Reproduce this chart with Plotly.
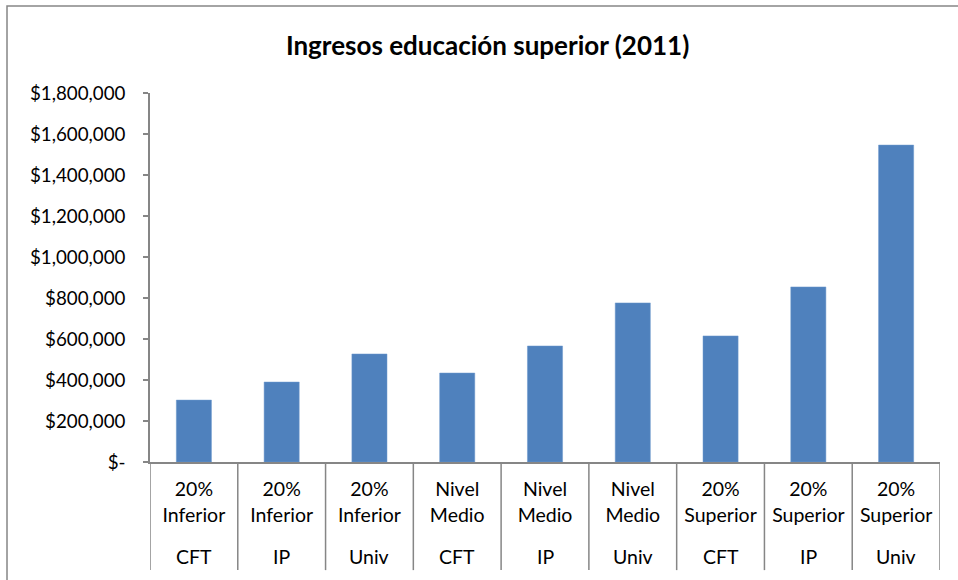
import plotly.graph_objects as go

# ---- data ----
nivel = ["20%<br>Inferior", "20%<br>Inferior", "20%<br>Inferior",
         "Nivel<br>Medio", "Nivel<br>Medio", "Nivel<br>Medio",
         "20%<br>Superior", "20%<br>Superior", "20%<br>Superior"]
institucion = ["CFT", "IP", "Univ", "CFT", "IP", "Univ", "CFT", "IP", "Univ"]
ingresos = [302000, 390000, 527000, 434000, 566000, 776000, 615000, 854000, 1546000]
y_tickvals = [0, 200000, 400000, 600000, 800000, 1000000, 1200000, 1400000, 1600000, 1800000]
y_ticktext = ["$-", "$200,000", "$400,000", "$600,000", "$800,000", "$1,000,000",
              "$1,200,000", "$1,400,000", "$1,600,000", "$1,800,000"]
title_text = "Ingresos educación superior (2011)"

FONT = "Lato"
GRAY = "#868686"

x_idx = list(range(len(ingresos)))

fig = go.Figure()
fig.add_trace(go.Bar(
    x=x_idx, y=ingresos,
    marker=dict(color="#4F81BD", line=dict(color="#6D98CC", width=0.5)),
    width=0.4,
))

shapes = []
# category dividers below the axis
for i in range(len(ingresos) + 1):
    shapes.append(dict(type="line", xref="x", yref="paper",
                       x0=i - 0.5, x1=i - 0.5, y0=0, y1=-0.293,
                       line=dict(color=GRAY, width=1.5)))
# outer chart border
shapes.append(dict(type="rect", xref="paper", yref="paper",
                   x0=-0.181, x1=1.05, y0=1.236, y1=-0.5,
                   line=dict(color=GRAY, width=1.5), fillcolor="rgba(0,0,0,0)"))

annotations = []
for i, inst in enumerate(institucion):
    annotations.append(dict(x=i, xref="x", y=-0.255, yref="paper",
                            text=inst, showarrow=False,
                            font=dict(family=FONT, size=19.5, color="#000000"),
                            xanchor="center", yanchor="middle"))

fig.update_layout(
    width=958, height=580,
    margin=dict(l=150, r=18, t=93, b=118),
    paper_bgcolor="white", plot_bgcolor="white",
    showlegend=False,
    bargap=0.6,
    title=dict(text="<b>" + title_text + "</b>", x=0.509, xanchor="center",
               y=0.921, yanchor="middle", yref="container",
               font=dict(family=FONT, size=26, color="#000000")),
    font=dict(family=FONT, size=19, color="#000000"),
    xaxis=dict(
        tickmode="array", tickvals=x_idx, ticktext=nivel,
        range=[-0.5, len(ingresos) - 0.5],
        showline=True, linecolor=GRAY, linewidth=1.5,
        ticks="", showgrid=False, zeroline=False,
        tickfont=dict(family=FONT, size=19.5, color="#000000"),
        ticklabelstandoff=9,
    ),
    yaxis=dict(
        range=[0, 1800000],
        tickmode="array", tickvals=y_tickvals, ticktext=y_ticktext,
        showline=True, linecolor=GRAY, linewidth=1.5,
        ticks="outside", ticklen=5, tickcolor=GRAY, tickwidth=1.5,
        showgrid=False, zeroline=False,
        tickfont=dict(family=FONT, size=18.75, color="#000000"),
        ticklabelstandoff=14,
    ),
    shapes=shapes,
    annotations=annotations,
)

fig.write_html("out.html", config={"displayModeBar": False},
               post_script="document.body.style.margin='0';")
